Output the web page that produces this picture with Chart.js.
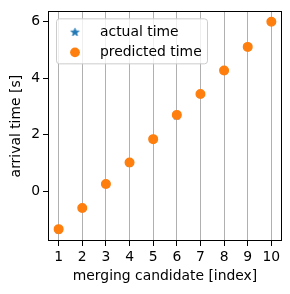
<!DOCTYPE html>
<html>
<head>
<meta charset="utf-8">
<script src="https://cdn.jsdelivr.net/npm/chart.js@4.4.1/dist/chart.umd.min.js"></script>
<style>
  html, body { margin: 0; padding: 0; background: #fff; }
  #wrap { width: 290px; height: 294px; }
</style>
</head>
<body>
<div id="wrap"><canvas id="chart" width="290" height="294"></canvas></div>
<script>
// data
const candidates = [1, 2, 3, 4, 5, 6, 7, 8, 9, 10];
const actualTime = [-1.38, -0.62, 0.23, 0.99, 1.83, 2.66, 3.43, 4.27, 5.11, 6.00];
const predictedTime = [-1.35, -0.60, 0.25, 1.01, 1.84, 2.70, 3.44, 4.27, 5.11, 6.00];
const xTicks = [1, 2, 3, 4, 5, 6, 7, 8, 9, 10];
const yTicks = [0, 2, 4, 6];
const seriesLabels = ['actual time', 'predicted time'];

const BLUE = '#1f77b4';
const ORANGE = '#ff7f0e';
const FONT = 'DejaVu Sans';

Chart.defaults.font.family = FONT;
Chart.defaults.font.size = 13.9;
Chart.defaults.color = '#000';

// filled five point star, like the matplotlib '*' marker
function makeStar(r, color) {
    const size = Math.ceil(r * 2 + 2);
    const c = document.createElement('canvas');
    c.width = size;
    c.height = size;
    const g = c.getContext('2d');
    const cx = size / 2, cy = size / 2;
    g.beginPath();
    for (let i = 0; i < 10; i++) {
        const rad = i % 2 ? r * 0.381966 : r;
        const a = -Math.PI / 2 + i * Math.PI / 5;
        const px = cx + rad * Math.cos(a), py = cy + rad * Math.sin(a);
        if (i) g.lineTo(px, py); else g.moveTo(px, py);
    }
    g.closePath();
    g.fillStyle = color;
    g.fill();
    g.lineWidth = 1;
    g.strokeStyle = color;
    g.stroke();
    return c;
}
const star = makeStar(4.2, BLUE);

const toPoints = (xs, ys) => xs.map((x, i) => ({ x: x, y: ys[i] }));

const frame = {
    id: 'frame',
    afterDatasetsDraw(chart) {
        const ctx = chart.ctx, a = chart.chartArea;
        ctx.save();
        ctx.strokeStyle = '#000';
        ctx.lineWidth = 1;
        ctx.strokeRect(Math.round(a.left) + 0.5, Math.round(a.top) + 0.5,
            Math.round(a.right - a.left) - 1, Math.round(a.bottom - a.top) - 1);
        ctx.restore();
    }
};

const legendBox = {
    id: 'legendBox',
    afterDatasetsDraw(chart) {
        const ctx = chart.ctx, a = chart.chartArea;
        const x = a.left + 8, y = a.top + 7, w = 151, h = 45, r = 3;
        ctx.save();
        ctx.beginPath();
        ctx.roundRect(x + 0.5, y + 0.5, w, h, r);
        ctx.fillStyle = 'rgba(255,255,255,0.8)';
        ctx.fill();
        ctx.strokeStyle = '#cccccc';
        ctx.lineWidth = 1;
        ctx.stroke();

        const mx = x + 19;
        // row 1: star
        ctx.drawImage(star, mx - star.width / 2, y + 14 - star.height / 2);
        // row 2: circle
        ctx.beginPath();
        ctx.arc(mx, y + 34, 4.9, 0, Math.PI * 2);
        ctx.fillStyle = ORANGE;
        ctx.fill();

        ctx.fillStyle = '#000';
        ctx.font = '13.9px "' + FONT + '"';
        ctx.textBaseline = 'alphabetic';
        ctx.textAlign = 'left';
        ctx.fillText(chart.data.datasets[0].label, x + 44, y + 17.3);
        ctx.fillText(chart.data.datasets[1].label, x + 44, y + 37.3);
        ctx.restore();
    }
};

new Chart(document.getElementById('chart'), {
    type: 'scatter',
    data: {
        datasets: [
            {
                label: seriesLabels[0],
                data: toPoints(candidates, actualTime),
                order: 1,
                pointStyle: star,
                backgroundColor: BLUE,
                borderColor: BLUE
            },
            {
                label: seriesLabels[1],
                data: toPoints(candidates, predictedTime),
                order: 0,
                pointStyle: 'circle',
                pointRadius: 4.3,
                borderWidth: 1.4,
                backgroundColor: ORANGE,
                borderColor: ORANGE
            }
        ]
    },
    options: {
        responsive: false,
        animation: false,
        layout: { padding: { top: 10, right: 8, left: 0, bottom: 0 } },
        plugins: {
            legend: { display: false },
            tooltip: { enabled: false }
        },
        scales: {
            x: {
                type: 'linear',
                min: 0.55,
                max: 10.45,
                afterBuildTicks: s => { s.ticks = xTicks.map(v => ({ value: v })); },
                afterFit: s => { s.height = 53; },
                ticks: { padding: 3, color: '#000' },
                grid: { color: '#b0b0b0', lineWidth: 1, tickColor: '#000', tickLength: 5, tickWidth: 1 },
                border: { display: false },
                title: { display: true, text: 'merging candidate [index]', color: '#000', padding: { top: 0, bottom: 9 } }
            },
            y: {
                type: 'linear',
                min: -1.77,
                max: 6.37,
                afterBuildTicks: s => { s.ticks = yTicks.map(v => ({ value: v })); },
                afterFit: s => { s.width = 48; },
                ticks: { padding: 3, color: '#000' },
                grid: { color: 'rgba(0,0,0,0)', tickColor: '#000', tickLength: 5, tickWidth: 1 },
                border: { display: false },
                title: { display: true, text: 'arrival time [s]', color: '#000', padding: { top: 8, bottom: 0 } }
            }
        }
    },
    plugins: [frame, legendBox]
});
</script>
</body>
</html>
